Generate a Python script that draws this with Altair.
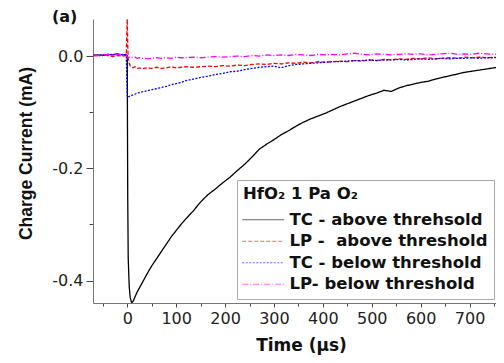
import altair as alt
import pandas as pd

# time axis (µs), shared by all series
time_us = [-70, -60, -50, -40, -30, -20, -10, -2, 0, 1, 2, 4, 6, 9, 12, 16, 20, 25, 30,
           40, 50, 60, 70, 80, 90, 100, 110, 120,
           135, 150, 165, 180, 195, 210, 225, 240, 255, 270, 285, 300, 315, 330, 345, 360,
           375, 390, 405, 420, 435, 450, 465, 480, 495, 510, 525, 540, 555, 570, 585, 600,
           615, 630, 645, 660, 675, 690, 705, 720, 735, 750, 765, 780]

tc_above = [0.001, 0.002, 0.001, 0.003, 0.002, 0.004, 0.002, 0.003, 0.0, -0.25, -0.36, -0.41, -0.43,
            -0.440, -0.437, -0.429, -0.421, -0.413, -0.405,
            -0.389, -0.374, -0.361, -0.348, -0.335, -0.322, -0.311, -0.300, -0.290,
            -0.276, -0.260, -0.247, -0.237, -0.226, -0.216, -0.204, -0.193, -0.180, -0.166,
            -0.157, -0.149, -0.140, -0.133, -0.125, -0.118,
            -0.112, -0.107, -0.102, -0.096, -0.090, -0.085, -0.080, -0.075, -0.070, -0.066,
            -0.061, -0.063, -0.057, -0.053, -0.050, -0.047,
            -0.045, -0.041, -0.038, -0.035, -0.032, -0.029, -0.027, -0.025, -0.023, -0.021,
            -0.019, -0.018]

lp_above = [0.001, 0.000, 0.002, 0.001, -0.001, 0.001, 0.000, 0.001, 0.066, 0.020, -0.005, -0.013,
            -0.017, -0.020, -0.021, -0.019, -0.022, -0.021, -0.023,
            -0.021, -0.022, -0.020, -0.022, -0.021, -0.019, -0.021, -0.020, -0.019,
            -0.020, -0.019, -0.018, -0.019, -0.017, -0.018, -0.016, -0.017, -0.015, -0.014,
            -0.015, -0.013, -0.014, -0.012, -0.013, -0.011,
            -0.012, -0.010, -0.011, -0.010, -0.009, -0.010, -0.008, -0.009, -0.007, -0.008,
            -0.006, -0.007, -0.005, -0.006, -0.004, -0.005,
            -0.003, -0.005, -0.004, -0.003, -0.004, -0.002, -0.003, -0.002, -0.003, -0.002,
            -0.003, -0.002]

tc_below = [0.002, 0.001, 0.003, 0.002, 0.003, 0.002, 0.003, 0.002, -0.070, -0.074, -0.073, -0.072,
            -0.071, -0.070, -0.069, -0.068, -0.066, -0.065, -0.064,
            -0.062, -0.060, -0.058, -0.056, -0.054, -0.051, -0.049, -0.047, -0.044,
            -0.041, -0.038, -0.036, -0.033, -0.031, -0.028, -0.027, -0.024, -0.022, -0.020,
            -0.019, -0.018, -0.021, -0.017, -0.015, -0.014,
            -0.013, -0.012, -0.011, -0.010, -0.010, -0.009, -0.008, -0.008, -0.007, -0.008,
            -0.007, -0.007, -0.006, -0.007, -0.006, -0.005,
            -0.006, -0.005, -0.004, -0.005, -0.004, -0.004, -0.003, -0.004, -0.003, -0.003,
            -0.002, -0.003]

lp_below = [0.002, 0.001, 0.002, 0.003, 0.002, 0.003, 0.002, 0.002, -0.002, -0.002, -0.003, -0.002,
            -0.003, -0.002, -0.003, -0.002, -0.004, -0.003, -0.004,
            -0.005, -0.004, -0.003, -0.004, -0.003, -0.004, -0.002, -0.003, -0.003,
            -0.002, -0.003, -0.002, -0.001, -0.002, -0.001, 0.000, -0.001, 0.001, 0.000,
            0.002, 0.001, 0.002, 0.001, 0.003, 0.002,
            0.001, 0.003, 0.002, 0.003, 0.002, 0.004, 0.005, 0.003, 0.002, 0.004,
            0.003, 0.002, 0.003, 0.004, 0.003, 0.004,
            0.002, 0.003, 0.004, 0.005, 0.003, 0.004, 0.003, 0.005, 0.004, 0.003,
            0.004, 0.003]

series_names = ["TC - above threhsold", "LP - \u00a0above threshold",
                "TC - below threshold", "LP- below threshold"]
series_colors = ["#000000", "#ff0000", "#0000ff", "#ff00ff"]
series_dashes = [[1, 0], [4, 2], [2, 1.5], [6, 2, 1, 2]]

x_ticks = [-50, 0, 50, 100, 150, 200, 250, 300, 350, 400, 450, 500, 550, 600, 650, 700, 750]
y_ticks = [-0.4, -0.3, -0.2, -0.1, 0.0]

rows = []
for name, vals in zip(series_names, [tc_above, lp_above, tc_below, lp_below]):
    for t, v in zip(time_us, vals):
        rows.append({"t": t, "v": v, "series": name})
df = pd.DataFrame(rows)
df["order"] = df["series"].map({n: i for i, n in enumerate(series_names)})

FONT = "DejaVu Sans"

lines = alt.Chart(df).mark_line(clip=True, strokeWidth=1.3).encode(
    x=alt.X("t:Q",
            scale=alt.Scale(domain=[-70, 754], nice=False, zero=False),
            axis=alt.Axis(
                values=x_ticks,
                labelExpr="datum.value % 100 === 0 ? datum.label : ''",
                tickSize={"condition": {"test": "datum.value % 100 === 0", "value": 4}, "value": 3},
                grid=False,
                domainColor="#777777",
                tickColor="#444444",
                labelFont=FONT, labelFontSize=16, labelColor="#222222", labelPadding=3,
                title="Time (\u03bcs)", titleFont=FONT, titleFontSize=17, titleFontWeight="bold",
                titleColor="#111111", titleX=208, titleY=47, titleBaseline="alphabetic",
                titleAlign="center")),
    y=alt.Y("v:Q",
            scale=alt.Scale(domain=[-0.44, 0.066], nice=False, zero=False),
            axis=alt.Axis(
                values=y_ticks,
                labelExpr="abs(round(datum.value * 10)) % 2 === 0 ? replace(format(datum.value, '.1f'), '\u2212', '-') : ''",
                tickSize={"condition": {"test": "abs(round(datum.value * 10)) % 2 === 0", "value": 7}, "value": 4},
                grid=False,
                domainColor="#777777",
                tickColor="#444444",
                labelFont=FONT, labelFontSize=16, labelColor="#222222", labelPadding=3,
                title="Charge Current (mA)", titleFont="Liberation Sans", titleFontSize=17.5,
                titleFontWeight="bold", titleColor="#111111", titleX=-62, titleY=134,
                titleAngle=270, titleAlign="center", titleBaseline="alphabetic")),
    color=alt.Color("series:N",
                    scale=alt.Scale(domain=series_names, range=series_colors),
                    sort=series_names,
                    legend=alt.Legend(
                        orient="none", legendX=144, legendY=161,
                        title="\u00a0HfO\u2082 1 Pa O\u2082",
                        titleFont=FONT, titleFontSize=16.5, titleFontWeight="bold",
                        titleColor="#111111", titlePadding=9,
                        labelFont=FONT, labelFontSize=16.5, labelFontWeight="bold",
                        labelColor="#111111", labelLimit=400, labelOffset=30,
                        symbolType="M-4.3,0H15.7", symbolSize=17.64, symbolStrokeWidth=1.2,
                        symbolOpacity=0.6,
                        strokeColor="#aaaaaa", fillColor="white", padding=6, rowPadding=4.5)),
    strokeDash=alt.StrokeDash("series:N",
                              scale=alt.Scale(domain=series_names, range=series_dashes),
                              sort=series_names, legend=None),
    order=alt.Order("t:Q"),
    detail="order:O",
)

label_df = pd.DataFrame({"txt": ["(a)"]})
panel_label = alt.Chart(label_df).mark_text(
    font=FONT, fontSize=16, fontWeight="bold", align="left", baseline="alphabetic",
    color="#111111").encode(
    text="txt:N", x=alt.value(-41), y=alt.value(3))

chart = alt.layer(lines, panel_label).properties(
    width=403, height=284,
    padding={"left": 85, "top": 11, "right": 0, "bottom": 52},
    autosize="none",
    background="white",
).configure_view(strokeWidth=0)

chart.save("out.html", embed_options={"renderer": "svg", "actions": False})
